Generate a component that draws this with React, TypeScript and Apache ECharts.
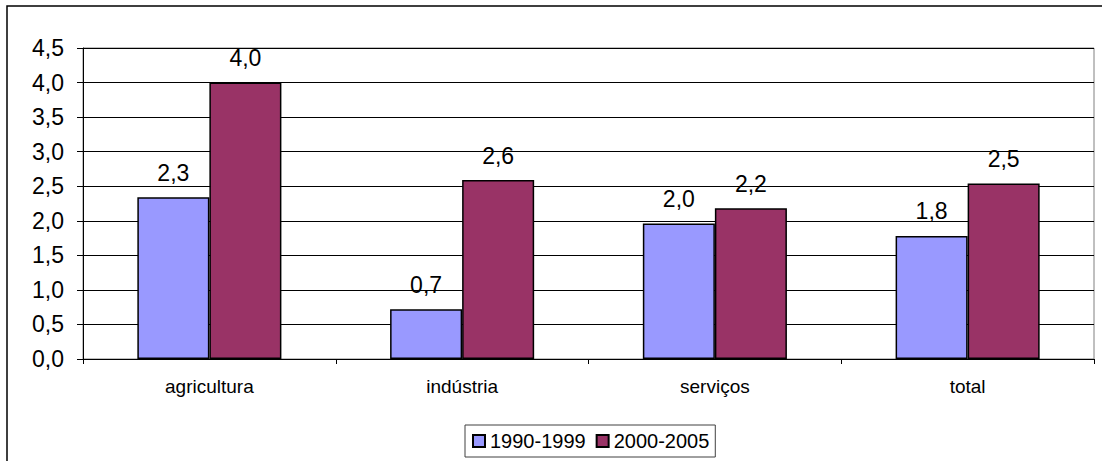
import React, { useEffect, useRef } from "react";
import * as echarts from "echarts";

const categories = ["agricultura", "indústria", "serviços", "total"];
const seriesNames = ["1990-1999", "2000-2005"];
const values1990 = [2.34, 0.72, 1.96, 1.78];
const values2000 = [4.0, 2.59, 2.18, 2.54];
const colors = ["#9999FF", "#993366"];

const fmt = (v: number) => v.toFixed(1).replace(".", ",");
const FONT = "Liberation Sans, Arial, sans-serif";

export default function App() {
  const ref = useRef<HTMLDivElement>(null);
  useEffect(() => {
    if (!ref.current) return;
    const chart = echarts.init(ref.current, undefined, { renderer: "svg" });
    const mkSeries = (name: string, data: number[], color: string) => ({
      name,
      type: "bar",
      data,
      barGap: "0%",
      barCategoryGap: "43%",
      itemStyle: { color, borderColor: "#000", borderWidth: 1.5 },
      label: {
        show: true,
        position: "top",
        distance: 13,
        color: "#000",
        fontSize: 23,
        fontFamily: FONT,
        formatter: (p: any) => fmt(p.value),
      },
    });
    chart.setOption({
      animation: false,
      backgroundColor: "#fff",
      graphic: [
        {
          type: "rect",
          shape: { x: 7, y: 6, width: 1200, height: 600 },
          style: { fill: "none", stroke: "#000", lineWidth: 1.5 },
          silent: true,
        },
      ],
      grid: {
        left: 83,
        right: 8,
        top: 48,
        bottom: 102,
        show: true,
        borderColor: "#808080",
        borderWidth: 1,
      },
      legend: {
        top: 425,
        left: 465,
        data: seriesNames,
        itemWidth: 12,
        itemHeight: 12,
        itemGap: 10,
        icon: "rect",
        borderColor: "#404040",
        borderWidth: 1,
        padding: [6, 6, 6, 7],
        textStyle: { fontSize: 20, fontFamily: FONT, color: "#000" },
      },
      xAxis: {
        type: "category",
        data: categories,
        axisLine: { lineStyle: { color: "#000", width: 1 } },
        axisTick: { show: true, length: 5, lineStyle: { color: "#000" } },
        axisLabel: { color: "#000", fontSize: 19, fontFamily: FONT, margin: 18 },
      },
      yAxis: {
        type: "value",
        min: 0,
        max: 4.5,
        interval: 0.5,
        axisLine: { show: true, lineStyle: { color: "#000", width: 1 } },
        axisTick: { show: true, length: 6, lineStyle: { color: "#000" } },
        axisLabel: {
          color: "#000",
          fontSize: 23,
          fontFamily: FONT,
          margin: 19,
          formatter: (v: number) => fmt(v),
        },
        splitLine: { show: true, lineStyle: { color: "#000", width: 1 } },
      },
      series: [
        mkSeries(seriesNames[0], values1990, colors[0]),
        mkSeries(seriesNames[1], values2000, colors[1]),
      ],
    });
    return () => chart.dispose();
  }, []);
  return (
    <div
      ref={ref}
      style={{ position: "fixed", left: 0, top: 0, width: 1102, height: 461 }}
    />
  );
}
